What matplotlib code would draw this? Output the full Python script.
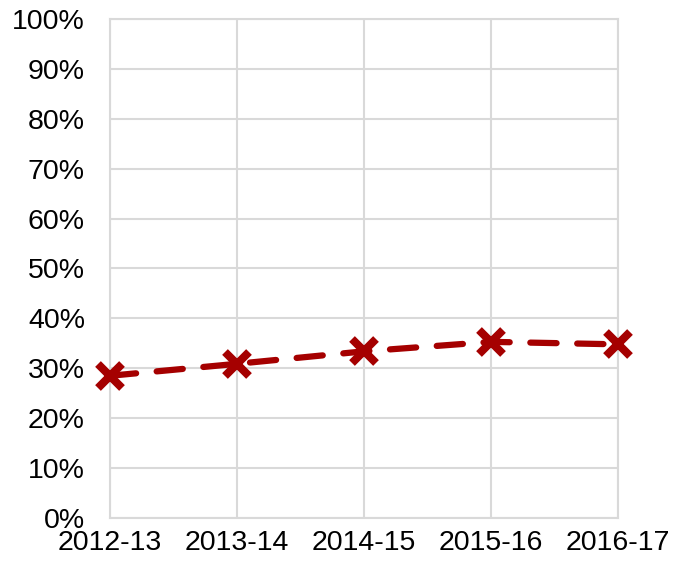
import matplotlib.pyplot as plt
from matplotlib.ticker import FuncFormatter

plt.rcParams['font.family'] = ['Liberation Sans', 'DejaVu Sans']

# Values
years = ['2012-13', '2013-14', '2014-15', '2015-16', '2016-17']
share = [28.5, 30.9, 33.4, 35.3, 34.8]

fig = plt.figure(figsize=(6.84, 5.62), dpi=100)
ax = fig.add_axes([0.1608, 0.0783, 0.7427, 0.8879])

x = list(range(len(years)))
ax.plot(x, share, color='#a50000', lw=4.5, linestyle=(0, (4.2, 3.3)),
        dash_capstyle='round', marker='x', markersize=17, mew=5.8,
        clip_on=False, zorder=3)

ax.set_xlim(0, len(years) - 1)
ax.set_ylim(0, 100)
ax.set_xticks(x)
ax.set_xticklabels(years)
ax.set_yticks(range(0, 101, 10))
ax.yaxis.set_major_formatter(FuncFormatter(lambda v, p: f'{v:.0f}%'))
ax.tick_params(length=0, labelsize=20.5)
ax.tick_params(axis='y', pad=18)
ax.tick_params(axis='x', pad=9)

ax.grid(True, color='#d9d9d9', lw=1.5)
ax.set_axisbelow(True)
for s in ax.spines.values():
    s.set_color('#d9d9d9')
    s.set_linewidth(1.5)

plt.savefig('out.png', dpi=100)
